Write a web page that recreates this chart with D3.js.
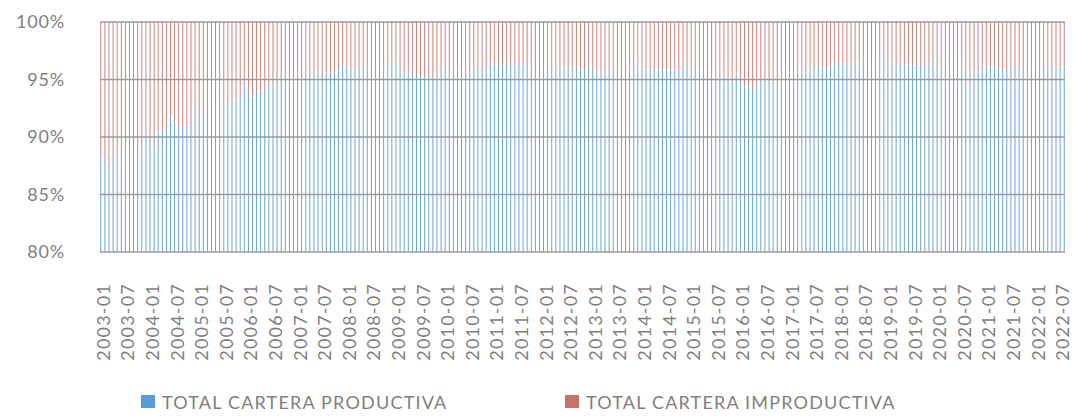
<!DOCTYPE html>
<html>
<head>
<meta charset="utf-8">
<script src="https://cdn.jsdelivr.net/npm/d3@7"></script>
<style>
  body { margin: 0; background: #fff; }
  text { font-family: Lato, "Noto Sans", sans-serif; fill: #7f7f7f; }
</style>
</head>
<body>
<svg id="chart" width="1073" height="416"></svg>
<script>
// share of productive portfolio (%) per month, 2003-01 .. 2022-08
var prodA = [ // 2003-01 .. 2009-07
  88.3, 88.1, 87.7, 87.9, 87.9, 88.4, 88.4, 88.0, 88.5, 88.0,
  89.3, 90.4, 89.8, 89.0, 90.5, 90.7, 90.5, 91.8, 91.3, 90.7,
  90.9, 91.0, 90.9, 92.7, 92.0, 91.8, 92.0, 92.2, 92.4, 93.0,
  92.9, 92.8, 93.3, 93.1, 93.4, 94.5, 94.0, 93.5, 94.0, 94.0,
  94.0, 94.7, 94.5, 94.7, 95.3, 95.2, 95.3, 95.9, 95.7, 95.4,
  95.6, 95.3, 95.5, 95.8, 95.5, 95.5, 95.6, 95.6, 95.8, 96.2,
  96.1, 95.8, 95.8, 96.0, 96.0, 96.2, 96.2, 96.2, 96.4, 96.2,
  96.2, 96.5, 96.4, 95.7, 95.7, 95.6, 95.4, 95.4, 95.3
];
var prodB = [ // 2009-08 .. 2016-02
  95.2, 95.4, 95.2, 95.2, 95.8, 95.4, 95.2, 95.4, 95.7, 95.7,
  95.7, 95.8, 95.8, 95.9, 95.9, 95.8, 96.5, 96.3, 96.2, 96.2,
  96.4, 96.4, 96.5, 96.2, 96.3, 96.4, 96.3, 96.2, 96.6, 96.3,
  96.0, 96.1, 95.9, 96.0, 96.1, 95.9, 96.1, 96.1, 95.8, 95.8,
  96.2, 95.8, 95.6, 95.6, 95.7, 95.7, 95.7, 95.8, 95.8, 95.7,
  95.9, 96.0, 96.4, 95.9, 95.9, 95.8, 95.9, 95.9, 95.8, 95.8,
  95.8, 95.8, 95.7, 95.7, 96.4, 95.9, 95.8, 95.9, 95.8, 95.7,
  95.7, 95.6, 95.4, 95.2, 95.1, 94.8, 95.5, 94.7, 94.3
];
var prodC = [ // 2016-03 .. 2022-08
  94.4, 94.1, 94.3, 94.9, 94.9, 94.8, 94.9, 94.8, 94.6, 96.0,
  95.5, 95.4, 95.5, 95.6, 95.7, 96.1, 95.8, 96.2, 96.0, 95.8,
  96.1, 96.5, 96.4, 96.3, 96.4, 96.4, 96.4, 96.5, 96.4, 96.4,
  96.3, 96.4, 96.5, 97.0, 96.6, 96.4, 96.3, 96.4, 96.2, 96.3,
  96.2, 96.2, 96.2, 96.2, 96.2, 96.7, 96.5, 96.1, 96.4, 95.4,
  95.6, 96.4, 96.5, 95.9, 94.5, 95.7, 95.8, 96.3, 96.1, 96.0,
  96.2, 95.9, 95.8, 95.8, 96.1, 95.9, 96.2, 96.1, 95.9, 96.2,
  96.1, 96.1, 96.1, 96.2, 96.1, 96.1, 96.1, 96.1
];
var tickLabels = [
  "2003-01","2003-07","2004-01","2004-07","2005-01","2005-07","2006-01","2006-07",
  "2007-01","2007-07","2008-01","2008-07","2009-01","2009-07","2010-01","2010-07",
  "2011-01","2011-07","2012-01","2012-07","2013-01","2013-07","2014-01","2014-07",
  "2015-01","2015-07","2016-01","2016-07","2017-01","2017-07","2018-01","2018-07",
  "2019-01","2019-07","2020-01","2020-07","2021-01","2021-07","2022-01","2022-07"
];
var yTicks = [80, 85, 90, 95, 100];
var seriesNames = ["TOTAL CARTERA PRODUCTIVA", "TOTAL CARTERA IMPRODUCTIVA"];
var seriesColors = ["#5B9BD5", "#C8736B"];

var fmt = d3.timeFormat("%Y-%m");
var months = d3.timeMonth.range(new Date(2003, 0, 1), new Date(2022, 8, 1)).map(fmt);
var prod = prodA.concat(prodB, prodC);
var data = months.map(function(m, i) { return {month: m, prod: prod[i]}; });

var svg = d3.select("#chart");
var plotL = 100, plotR = 1065, plotT = 22, plotB = 252;

var x = d3.scalePoint().domain(months).range([100.8, 1064.2]);
var y = d3.scaleLinear().domain([80, 100]).range([plotB, plotT]);
var barW = 0.9;

// productive part (bottom)
svg.append("g").selectAll("rect")
  .data(data).enter().append("rect")
    .attr("x", function(d) { return x(d.month) - barW / 2; })
    .attr("y", function(d) { return y(d.prod); })
    .attr("width", barW)
    .attr("height", function(d) { return y(80) - y(d.prod); })
    .style("fill", seriesColors[0]);

// unproductive part (remainder up to 100%)
svg.append("g").selectAll("rect")
  .data(data).enter().append("rect")
    .attr("x", function(d) { return x(d.month) - barW / 2; })
    .attr("y", y(100))
    .attr("width", barW)
    .attr("height", function(d) { return y(d.prod) - y(100); })
    .style("fill", seriesColors[1]);

// gridlines
svg.append("g").selectAll("line")
  .data(yTicks).enter().append("line")
    .attr("x1", plotL).attr("x2", plotR)
    .attr("y1", function(d) { return y(d); })
    .attr("y2", function(d) { return y(d); })
    .style("stroke", "#9a9a9a")
    .style("stroke-width", 1.6);

// y labels
svg.append("g").selectAll("text")
  .data(yTicks).enter().append("text")
    .attr("x", 65)
    .attr("y", function(d) { return y(d); })
    .attr("dy", "0.35em")
    .style("text-anchor", "end")
    .style("font-size", "18px")
    .style("letter-spacing", "0.8px")
    .text(function(d) { return d + "%"; });

// x labels
svg.append("g").selectAll("text")
  .data(tickLabels).enter().append("text")
    .attr("transform", function(d) { return "translate(" + (x(d) + 2.7) + ",283) rotate(-90)"; })
    .attr("dy", "0.35em")
    .style("text-anchor", "end")
    .style("font-size", "18px")
    .style("letter-spacing", "1.2px")
    .text(function(d) { return d; });

// legend
var legX = [141, 565];
var leg = svg.append("g").selectAll("g")
  .data(seriesNames).enter().append("g")
    .attr("transform", function(d, i) { return "translate(" + legX[i] + ",395)"; });
leg.append("rect")
  .attr("width", 14).attr("height", 13)
  .style("fill", function(d, i) { return seriesColors[i]; });
leg.append("text")
  .attr("x", 21).attr("y", 14)
  .style("font-size", "18px")
  .style("letter-spacing", "1.2px")
  .text(function(d) { return d; });
</script>
</body>
</html>
